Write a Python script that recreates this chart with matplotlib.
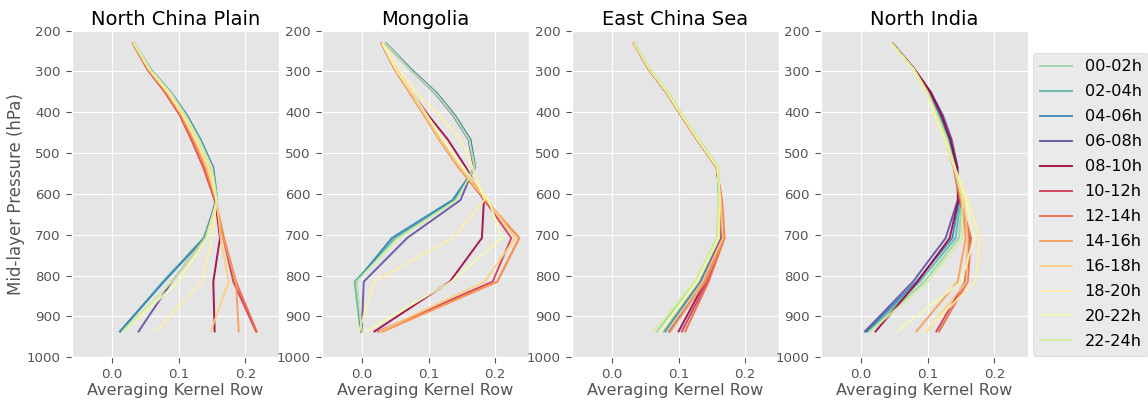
import numpy as np
import matplotlib
matplotlib.use("Agg")
import matplotlib.pyplot as plt

plt.style.use("ggplot")

pressure = [232, 296, 352, 408, 467, 535, 615, 708, 815, 937]
hours = ["00-02h", "02-04h", "04-06h", "06-08h", "08-10h", "10-12h",
         "12-14h", "14-16h", "16-18h", "18-20h", "20-22h", "22-24h"]
regions = ["North China Plain", "Mongolia", "East China Sea", "North India"]

ncp = [
    [0.033, 0.058, 0.087, 0.111, 0.131, 0.150, 0.157, 0.137, 0.076, 0.013],
    [0.033, 0.058, 0.088, 0.112, 0.132, 0.151, 0.158, 0.138, 0.077, 0.013],
    [0.034, 0.059, 0.089, 0.113, 0.133, 0.152, 0.158, 0.139, 0.078, 0.012],
    [0.033, 0.057, 0.086, 0.109, 0.128, 0.147, 0.156, 0.140, 0.090, 0.040],
    [0.032, 0.054, 0.081, 0.103, 0.121, 0.139, 0.155, 0.162, 0.152, 0.154],
    [0.032, 0.054, 0.080, 0.102, 0.119, 0.137, 0.154, 0.167, 0.182, 0.216],
    [0.032, 0.054, 0.081, 0.103, 0.120, 0.138, 0.155, 0.168, 0.186, 0.217],
    [0.032, 0.055, 0.082, 0.104, 0.122, 0.140, 0.156, 0.167, 0.186, 0.190],
    [0.033, 0.056, 0.084, 0.106, 0.125, 0.143, 0.157, 0.163, 0.175, 0.148],
    [0.033, 0.057, 0.085, 0.107, 0.126, 0.146, 0.157, 0.150, 0.135, 0.066],
    [0.034, 0.058, 0.087, 0.110, 0.129, 0.149, 0.157, 0.142, 0.100, 0.017],
    [0.034, 0.058, 0.088, 0.111, 0.131, 0.150, 0.158, 0.140, 0.090, 0.016],
]

mongolia = [
    [0.036, 0.074, 0.110, 0.138, 0.161, 0.169, 0.138, 0.052, -0.011, -0.002],
    [0.036, 0.074, 0.111, 0.139, 0.162, 0.170, 0.140, 0.049, -0.010, -0.001],
    [0.037, 0.075, 0.112, 0.140, 0.163, 0.170, 0.136, 0.045, -0.008, -0.001],
    [0.036, 0.073, 0.109, 0.137, 0.160, 0.168, 0.148, 0.068, 0.003, 0.000],
    [0.030, 0.052, 0.075, 0.100, 0.129, 0.156, 0.183, 0.180, 0.132, 0.019],
    [0.030, 0.050, 0.072, 0.094, 0.117, 0.146, 0.184, 0.224, 0.196, 0.025],
    [0.030, 0.050, 0.072, 0.094, 0.116, 0.145, 0.185, 0.236, 0.203, 0.030],
    [0.030, 0.050, 0.072, 0.094, 0.116, 0.145, 0.186, 0.236, 0.203, 0.032],
    [0.031, 0.051, 0.073, 0.095, 0.117, 0.147, 0.187, 0.230, 0.184, 0.027],
    [0.032, 0.056, 0.082, 0.116, 0.148, 0.166, 0.184, 0.137, 0.018, -0.004],
    [0.031, 0.052, 0.076, 0.098, 0.122, 0.152, 0.190, 0.210, 0.134, 0.006],
    [0.036, 0.073, 0.110, 0.138, 0.161, 0.169, 0.142, 0.055, -0.008, 0.000],
]

ecs = [
    [0.034, 0.058, 0.084, 0.106, 0.130, 0.159, 0.160, 0.158, 0.126, 0.068],
    [0.034, 0.057, 0.083, 0.105, 0.129, 0.158, 0.161, 0.160, 0.131, 0.078],
    [0.034, 0.057, 0.083, 0.105, 0.129, 0.158, 0.161, 0.161, 0.133, 0.081],
    [0.034, 0.057, 0.083, 0.105, 0.129, 0.158, 0.162, 0.163, 0.136, 0.086],
    [0.033, 0.056, 0.082, 0.104, 0.128, 0.157, 0.163, 0.165, 0.140, 0.100],
    [0.033, 0.056, 0.082, 0.104, 0.128, 0.157, 0.164, 0.167, 0.143, 0.105],
    [0.033, 0.056, 0.082, 0.104, 0.128, 0.157, 0.165, 0.169, 0.145, 0.110],
    [0.033, 0.056, 0.082, 0.104, 0.128, 0.157, 0.164, 0.168, 0.140, 0.088],
    [0.033, 0.057, 0.083, 0.105, 0.129, 0.158, 0.163, 0.166, 0.136, 0.083],
    [0.034, 0.057, 0.083, 0.105, 0.129, 0.158, 0.162, 0.161, 0.129, 0.074],
    [0.034, 0.058, 0.084, 0.106, 0.130, 0.159, 0.161, 0.159, 0.127, 0.072],
    [0.034, 0.058, 0.085, 0.107, 0.131, 0.160, 0.160, 0.157, 0.124, 0.063],
]

india = [
    [0.047, 0.080, 0.101, 0.116, 0.130, 0.141, 0.151, 0.147, 0.095, 0.012],
    [0.047, 0.080, 0.102, 0.118, 0.132, 0.142, 0.149, 0.142, 0.088, 0.010],
    [0.047, 0.081, 0.103, 0.119, 0.133, 0.143, 0.147, 0.137, 0.083, 0.008],
    [0.048, 0.081, 0.105, 0.123, 0.136, 0.145, 0.145, 0.127, 0.078, 0.006],
    [0.048, 0.081, 0.105, 0.121, 0.134, 0.144, 0.146, 0.133, 0.085, 0.022],
    [0.047, 0.080, 0.101, 0.114, 0.128, 0.139, 0.148, 0.162, 0.156, 0.113],
    [0.047, 0.080, 0.100, 0.113, 0.127, 0.139, 0.149, 0.165, 0.160, 0.117],
    [0.047, 0.080, 0.100, 0.113, 0.127, 0.139, 0.150, 0.157, 0.145, 0.083],
    [0.047, 0.080, 0.100, 0.112, 0.126, 0.139, 0.154, 0.160, 0.158, 0.098],
    [0.046, 0.079, 0.099, 0.111, 0.126, 0.140, 0.160, 0.178, 0.172, 0.095],
    [0.046, 0.079, 0.099, 0.112, 0.127, 0.141, 0.157, 0.170, 0.150, 0.054],
    [0.047, 0.080, 0.100, 0.115, 0.129, 0.141, 0.152, 0.152, 0.100, 0.014],
]

data = [ncp, mongolia, ecs, india]

colors = np.roll(plt.get_cmap("Spectral")(np.linspace(0, 1, 12)), 4, axis=0)

fig = plt.figure(figsize=(11.48, 4.0), dpi=100)
lefts = [0.0625, 0.2802, 0.4980, 0.7150]
axes = [fig.add_axes([l, 0.107, 0.1803, 0.8165]) for l in lefts]

for ax, name, series in zip(axes, regions, data):
    for vals, lab, c in zip(series, hours, colors):
        ax.plot(vals, pressure, color=c, lw=1.4, alpha=0.9, label=lab)
    ax.set_xlim(-0.06, 0.25)
    ax.set_ylim(1000, 200)
    ax.set_yticks(range(200, 1001, 100))
    ax.set_xticks([0.0, 0.1, 0.2])
    ax.set_title(name, fontsize=14, color="black", pad=4)
    ax.set_xlabel("Averaging Kernel Row", fontsize=11.6, labelpad=1)
    ax.tick_params(labelsize=9.6, length=4.5, pad=3.5)

axes[0].set_ylabel("Mid-layer Pressure (hPa)", fontsize=12)
axes[0].yaxis.set_label_coords(-0.225, 0.5)
axes[-1].legend(loc="lower left", bbox_to_anchor=(1.026, 0.005), fontsize=11.6,
                handlelength=2.0, borderaxespad=0.0, labelspacing=0.62,
                frameon=True)

fig.savefig("out.png", dpi=100)
